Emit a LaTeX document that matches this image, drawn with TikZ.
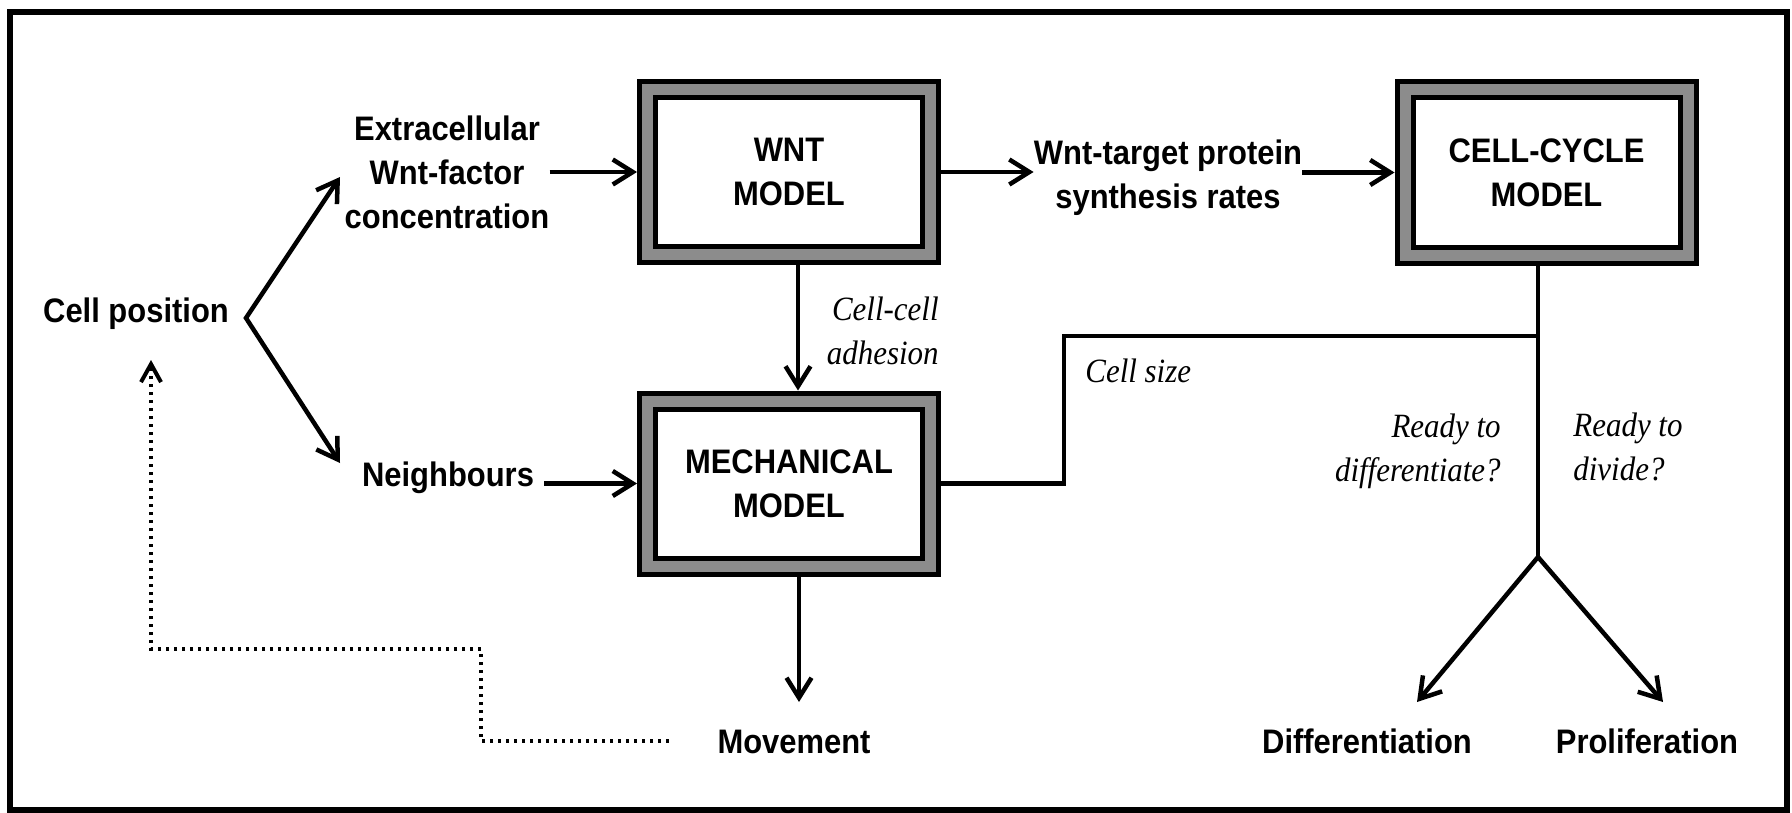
\documentclass[tikz,border=0pt]{standalone}
\usepackage{fontspec}
\usetikzlibrary{arrows.meta,calc}
\newfontfamily\labfont{Liberation Sans}[FakeStretch=0.91]
\newfontfamily\itfont{Liberation Serif}[FakeStretch=0.91]
\definecolor{boxgray}{RGB}{140,140,140}
\tikzset{mybarb/.tip={Straight Barb[length=10pt,width=12.5pt]}}
\begin{document}
\begin{tikzpicture}[x=0.5pt,y=-0.5pt,
  lab/.style={font=\labfont\bfseries\fontsize{17pt}{22pt}\selectfont, align=center, inner sep=0pt},
  itl/.style={font=\itfont\itshape\fontsize{17pt}{22pt}\selectfont, inner sep=0pt},
  model/.style={lab, draw=black, line width=2.5pt, double=boxgray, double distance=5.5pt,
    fill=white, minimum width=141.5pt, minimum height=82.5pt, outer sep=5.25pt},
  conn/.style={line width=2.25pt},
  arr/.style={conn, -mybarb},
  dots/.style={line width=2pt, dash pattern=on 1.5pt off 2.5pt},
]
\useasboundingbox (0,0) rectangle (1792,813);
\draw[line width=3pt] (10,12) rectangle (1787,810);

% text nodes
\node[lab, anchor=base] (cellpos) at (136,322) {Cell position};
\node[lab] (ext) at (447,172) {Extracellular\\Wnt-factor\\concentration};
\node[lab, anchor=base] (neigh) at (448,486) {Neighbours};
\node[model] (wnt) at (789,172) {WNT\\MODEL};
\node[model] (mech) at (789,483.5) {MECHANICAL\\MODEL};
\node[model] (cc) at (1546.5,172.5) {CELL-CYCLE\\MODEL};
\node[lab] (wtp) at (1168,178) {Wnt-target protein\\synthesis rates};
\node[itl, align=right, anchor=east] (adh) at (939,331) {Cell-cell\\adhesion};
\node[itl, anchor=base west] (csize) at (1085,382) {Cell size};
\node[itl, align=right, anchor=east] (rdiff) at (1501,451) {Ready to\\differentiate?};
\node[itl, align=left, anchor=west] (rdiv) at (1573,447) {Ready to\\divide?};
\node[lab, anchor=base] (mv) at (794,753) {Movement};
\node[lab, anchor=base] (diff) at (1367,753) {Differentiation};
\node[lab, anchor=base] (prol) at (1647,753) {Proliferation};

% coordinates
\coordinate (lfork) at (246,318);
\coordinate (exttip) at (340,177);
\coordinate (neightip) at (340,463);
\coordinate (csA) at (1064,336);
\coordinate (ccj) at (1538,336);
\coordinate (rfork) at (1538,557);
\coordinate (difftip) at (1417,702);
\coordinate (proltip) at (1663,702);
\coordinate (mvtip) at (799,702);
\coordinate (dstart) at (669,741);
\coordinate (dstep) at (481,649);
\coordinate (cptip) at (151,360);

% connectors
\draw[conn, mybarb-mybarb] (exttip) -- (lfork) -- (neightip);
\draw[arr] (ext.east) -- (wnt.west);
\draw[arr] ($(neigh.east |- mech.west)+(10,0)$) -- (mech.west);
\draw[arr] (wnt.east) -- (wnt.east -| wtp.west);
\draw[arr] (wtp.east |- cc.west) -- (cc.west);
\draw[arr] ([xshift=4.5pt]wnt.south) -- ([xshift=4.5pt]mech.north);
\draw[arr] ([xshift=5pt]mech.south) -- (mvtip);
\draw[conn] (mech.east) -| (csA) -- (ccj);
\draw[conn] (cc.south -| rfork) -- (rfork);
\draw[conn, mybarb-mybarb] (difftip) -- (rfork) -- (proltip);
\draw[dots, -{Straight Barb[length=9pt,width=10pt]}] (dstart) -| (dstep) -| (cptip);
\end{tikzpicture}
\end{document}
